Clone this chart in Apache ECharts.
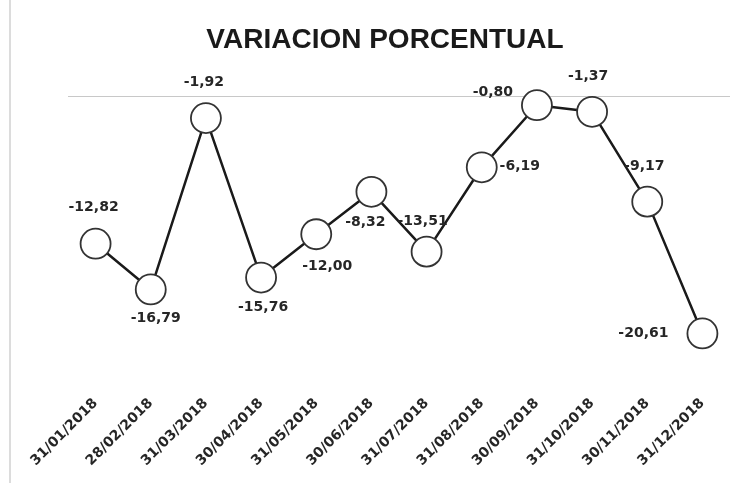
<!DOCTYPE html>
<html><head><meta charset="utf-8">
<script src="https://cdn.jsdelivr.net/npm/echarts@6/dist/echarts.min.js"></script>
<style>html,body{margin:0;padding:0;background:#fff}#c{width:744px;height:483px}</style>
</head><body><div id="c"></div>
<script>
const categories = ["31/01/2018","28/02/2018","31/03/2018","30/04/2018","31/05/2018","30/06/2018","31/07/2018","31/08/2018","30/09/2018","31/10/2018","30/11/2018","31/12/2018"];
const values = [-12.82,-16.79,-1.92,-15.76,-12.00,-8.32,-13.51,-6.19,-0.80,-1.37,-9.17,-20.61];
// label centre offset from the marker centre
const labelOff = [[-2,-36],[5,29],[-2,-36],[2,30],[11,32],[-6,31],[-4,-30],[38,-1],[-44,-13],[-4,-35],[-3,-35],[-59,0]];

const fmt = v => v.toFixed(2).replace('.', ',');
const data = values.map((v,i)=>({
  value: v,
  label: {position: 'inside', offset: labelOff[i]}
}));

const chart = echarts.init(document.getElementById('c'));
chart.setOption({
  animation:false,
  title:{text:'VARIACION PORCENTUAL',left:380,textAlign:'center',top:21,
    textStyle:{fontFamily:'Liberation Sans, Arial',fontWeight:'bold',fontSize:28,color:'#1a1a1a'}},
  grid:{left:68,right:14,top:96,bottom:99},
  xAxis:{type:'category',data:categories,boundaryGap:true,
    axisLine:{show:false},axisTick:{show:false},
    axisLabel:{rotate:45,margin:17,interval:0,fontFamily:'DejaVu Sans',fontWeight:'bold',fontSize:14,color:'#262626'}},
  yAxis:{type:'value',min:-25,max:0,interval:25,
    axisLabel:{show:false},axisLine:{show:false},axisTick:{show:false},
    splitLine:{show:true,showMinLine:false,lineStyle:{color:'#c8c8c8',width:1}}},
  series:[{type:'line',data:data,
    symbol:'circle',symbolSize:30,
    lineStyle:{color:'#1a1a1a',width:2.5},
    itemStyle:{color:'#fff',borderColor:'#333',borderWidth:1.8},
    label:{show:true,formatter:p=>fmt(p.value),
      fontFamily:'DejaVu Sans',fontWeight:'bold',fontSize:14,color:'#262626'}
  }],
  graphic:[{type:'line',shape:{x1:10,y1:0,x2:10,y2:483},style:{stroke:'#dcdcdc',lineWidth:2}}]
});
</script></body></html>
